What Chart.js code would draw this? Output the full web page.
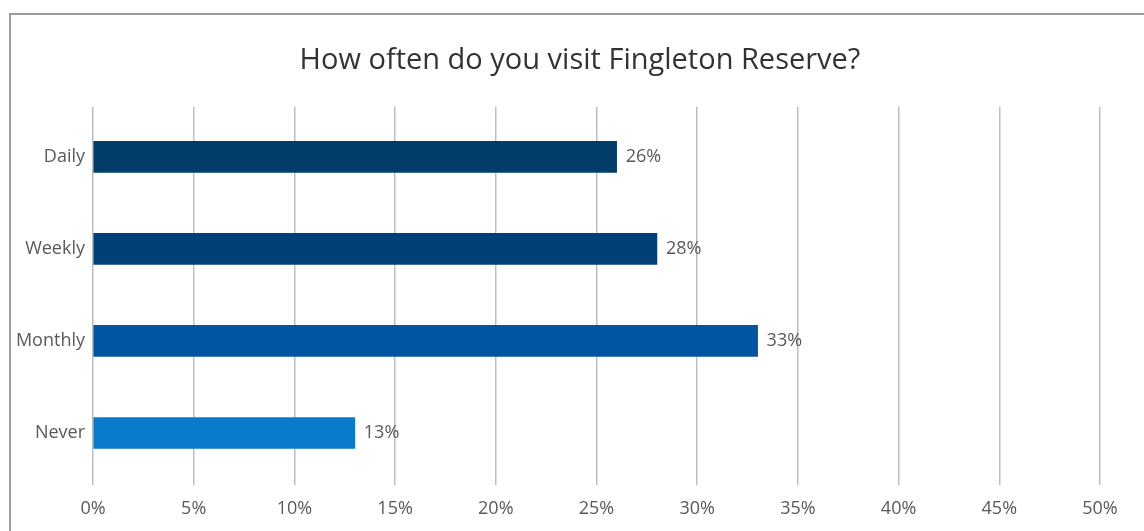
<!DOCTYPE html>
<html>
<head>
<meta charset="utf-8">
<script src="https://cdn.jsdelivr.net/npm/chart.js@4"></script>
<style>
  html, body { margin: 0; padding: 0; background: #fff; overflow: hidden; }
  #frame { position: absolute; left: 9px; top: 13px; width: 2000px; height: 2000px; border: 2px solid #9c9c9c; }
  #wrap { position: absolute; left: 0; top: 0; width: 1144px; height: 531px; }
</style>
</head>
<body>
<div id="frame"></div>
<div id="wrap"><canvas id="barChart"></canvas></div>
<script>
// survey answers
var categories = ['Daily', 'Weekly', 'Monthly', 'Never'];
var shares = [26, 28, 33, 13];
var barColors = ['#003e69', '#003f78', '#0055a2', '#0a7bcb'];
var tickStep = 5;
var tickMax = 50;

var fontFamily = '"Open Sans", Arial, sans-serif';
var labelSize = 18;

// write the value next to the end of each bar
var valueLabels = {
    id: 'valueLabels',
    afterDatasetsDraw: function (chart) {
        var ctx = chart.ctx;
        var meta = chart.getDatasetMeta(0);
        ctx.save();
        ctx.font = labelSize + 'px ' + fontFamily;
        ctx.fillStyle = '#595959';
        ctx.textAlign = 'left';
        ctx.textBaseline = 'middle';
        meta.data.forEach(function (bar, i) {
            ctx.fillText(shares[i] + '%', bar.x + 9, bar.y);
        });
        ctx.restore();
    }
};

var gridColor = '#bdbdbd';

var ctx = document.getElementById('barChart').getContext('2d');
var chart = new Chart(ctx, {
    type: 'bar',
    data: {
        labels: categories,
        datasets: [{
            data: shares,
            backgroundColor: barColors,
            barThickness: 31
        }]
    },
    options: {
        indexAxis: 'y',
        responsive: true,
        maintainAspectRatio: false,
        animation: false,
        layout: { padding: { left: 16, right: 0, top: 0, bottom: 0 } },
        plugins: {
            legend: { display: false },
            tooltip: { enabled: false },
            title: {
                display: true,
                text: 'How often do you visit Fingleton Reserve?',
                color: '#333333',
                font: { size: 29, family: fontFamily, weight: 'normal' },
                padding: { top: 43, bottom: 29 }
            }
        },
        scales: {
            x: {
                min: 0,
                max: tickMax,
                grid: { color: gridColor, lineWidth: 1.5, tickLength: 6 },
                border: { display: false },
                ticks: {
                    stepSize: tickStep,
                    padding: 13,
                    color: '#595959',
                    font: { size: labelSize, family: fontFamily },
                    callback: function (v) { return v + '%'; }
                },
                afterFit: function (scale) {
                    scale.height = 52;
                    scale.paddingRight = 44;   // white space right of the 50% line
                }
            },
            // top axis only carries the short stubs above the plot
            xTop: {
                position: 'top',
                min: 0,
                max: tickMax,
                grid: { color: gridColor, lineWidth: 1.5, tickLength: 4, drawOnChartArea: false },
                border: { display: false },
                ticks: { stepSize: tickStep, display: false },
                afterFit: function (scale) { scale.height = 4; }
            },
            y: {
                grid: { display: false, drawTicks: false },
                border: { display: false },
                ticks: {
                    padding: 8,
                    color: '#595959',
                    font: { size: labelSize, family: fontFamily }
                },
                afterFit: function (scale) { scale.width = 77; }
            }
        }
    },
    plugins: [valueLabels]
});
</script>
</body>
</html>
